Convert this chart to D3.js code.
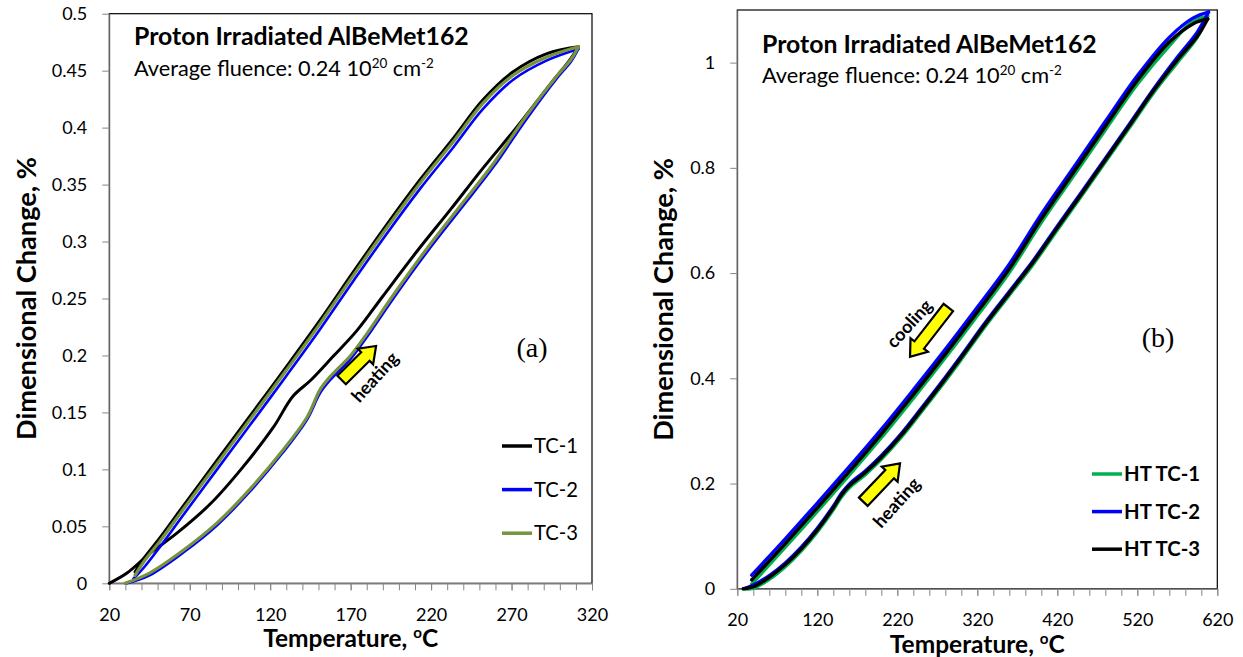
<!DOCTYPE html>
<html>
<head>
<meta charset="utf-8">
<title>Proton Irradiated AlBeMet162 - dimensional change</title>
<script src="https://cdn.jsdelivr.net/npm/d3@7"></script>
<style>
  body { margin: 0; background: #fff; }
  svg { display: block; font-family: Lato, "Open Sans", sans-serif; }
  .axis text { font-size: 18px; fill: #000; font-family: Lato, sans-serif; }
  .axis line, .axis path { stroke: #868686; }
</style>
</head>
<body>
<svg id="chart" width="1243" height="657"></svg>
<script>
// ---- panel (a): thermal cycles TC-1..TC-3 (heating branch, then cooling branch)
var aTempTicks = [20, 70, 120, 170, 220, 270, 320];
var aValTicks = [0, 0.05, 0.1, 0.15, 0.2, 0.25, 0.3, 0.35, 0.4, 0.45, 0.5];

var tc1HeatT = [20, 31, 45, 62, 83, 103, 122, 134, 145, 159, 174, 190, 211, 232, 252, 273, 294, 306, 311.5];
var tc1HeatV = [0, 0.009, 0.026, 0.044, 0.070, 0.102, 0.137, 0.164, 0.178, 0.199, 0.222, 0.252, 0.291, 0.328, 0.364, 0.400, 0.438, 0.459, 0.471];
var tc1CoolT = [292, 271, 252, 234, 213, 192, 172, 151, 130, 107, 87, 66, 51.5, 41, 36];
var tc1CoolV = [0.465, 0.449, 0.424, 0.391, 0.354, 0.314, 0.274, 0.231, 0.190, 0.146, 0.108, 0.068, 0.040, 0.021, 0.010];

var tc2HeatT = [31, 45, 66, 87, 107, 128, 143, 151, 157, 170, 180, 196, 217, 238, 259, 279, 298, 307, 311.5];
var tc2HeatV = [0, 0.007, 0.027, 0.051, 0.080, 0.115, 0.144, 0.167, 0.178, 0.197, 0.216, 0.249, 0.290, 0.328, 0.366, 0.407, 0.443, 0.458, 0.469];
var tc2CoolT = [292, 271, 252, 234, 213, 192, 172, 151, 130, 107, 87, 66, 51.5, 41, 35];
var tc2CoolV = [0.459, 0.442, 0.416, 0.383, 0.346, 0.306, 0.266, 0.223, 0.182, 0.138, 0.100, 0.060, 0.032, 0.013, 0.004];

var tc3HeatT = [29.8, 45, 66, 87, 107, 128, 143, 151, 157, 170, 180, 196, 217, 238, 259, 279, 298, 307, 311.5];
var tc3HeatV = [0, 0.009, 0.029, 0.053, 0.082, 0.117, 0.146, 0.170, 0.181, 0.200, 0.219, 0.252, 0.293, 0.331, 0.369, 0.410, 0.445, 0.460, 0.471];
var tc3CoolT = [292, 271, 252, 234, 213, 192, 172, 151, 130, 107, 87, 66, 51.5, 41, 36];
var tc3CoolV = [0.462, 0.446, 0.421, 0.388, 0.351, 0.311, 0.271, 0.228, 0.187, 0.143, 0.105, 0.065, 0.037, 0.018, 0.007];

// ---- panel (b): heat-treated samples HT TC-1..HT TC-3
var bTempTicks = [20, 120, 220, 320, 420, 520, 620];
var bValTicks = [0, 0.2, 0.4, 0.6, 0.8, 1];

var htHeatT = [27.5, 40, 60, 80, 100, 120, 140, 150, 160, 180, 200, 225, 250, 275, 300, 330, 360, 390, 420, 450, 480, 510, 540, 570, 595, 608];
var ht2HeatT = [30, 40, 60, 80, 100, 120, 140, 150, 160, 180, 200, 225, 250, 275, 300, 330, 360, 390, 420, 450, 480, 510, 540, 570, 595, 609];
var htCoolT = [590, 560, 520, 480, 440, 400, 360, 320, 280, 240, 200, 160, 120, 80, 38];

var ht1HeatV = [0, 0.001, 0.018, 0.042, 0.072, 0.108, 0.150, 0.174, 0.192, 0.217, 0.246, 0.288, 0.336, 0.385, 0.436, 0.499, 0.558, 0.617, 0.682, 0.746, 0.811, 0.876, 0.942, 1.000, 1.048, 1.088];
var ht1CoolV = [1.079, 1.032, 0.959, 0.872, 0.784, 0.696, 0.601, 0.519, 0.439, 0.362, 0.287, 0.216, 0.147, 0.079, 0.009];

var ht2HeatV = [0.001, 0.007, 0.025, 0.049, 0.079, 0.115, 0.157, 0.181, 0.199, 0.224, 0.253, 0.295, 0.343, 0.392, 0.443, 0.506, 0.565, 0.624, 0.689, 0.753, 0.818, 0.883, 0.949, 1.010, 1.058, 1.096];
var ht2CoolV = [1.085, 1.048, 0.975, 0.888, 0.800, 0.712, 0.617, 0.535, 0.455, 0.378, 0.303, 0.232, 0.163, 0.095, 0.026];

var ht3HeatV = [0, 0.004, 0.022, 0.046, 0.076, 0.112, 0.154, 0.178, 0.196, 0.221, 0.250, 0.292, 0.340, 0.389, 0.440, 0.503, 0.562, 0.621, 0.686, 0.750, 0.815, 0.880, 0.946, 1.005, 1.050, 1.083];
var ht3CoolV = [1.074, 1.039, 0.966, 0.879, 0.791, 0.703, 0.608, 0.526, 0.446, 0.369, 0.294, 0.223, 0.154, 0.086, 0.017];

var svg = d3.select("#chart");

function zip(t, v) { return t.map(function (d, i) { return [d, v[i]]; }); }

// scale a text's font so that it covers the width measured on the original figure
function fit(sel, target) {
  var w = sel.node().getComputedTextLength();
  sel.attr("font-size", parseFloat(sel.attr("font-size")) * target / w);
  return sel;
}

function sup(parent, txt) {
  parent.append("tspan").attr("font-size", "0.62em").attr("dy", "-0.62em").text(txt);
}

function blockArrow(g, x, y, a) {
  var x0 = x(a.tail[0]), y0 = y(a.tail[1]), x1 = x(a.tip[0]), y1 = y(a.tip[1]);
  var L = Math.hypot(x1 - x0, y1 - y0), ang = Math.atan2(y1 - y0, x1 - x0) * 180 / Math.PI;
  var w = 6, h = 11, hl = 15;
  g.append("path")
    .attr("d", "M0," + (-w) + "L" + (L - hl) + "," + (-w) + "L" + (L - hl) + "," + (-h) + "L" + L + ",0L" +
      (L - hl) + "," + h + "L" + (L - hl) + "," + w + "L0," + w + "Z")
    .attr("transform", "translate(" + x0 + "," + y0 + ") rotate(" + ang + ")")
    .attr("fill", "#ffff00").attr("stroke", "#000").attr("stroke-width", 2.2);
  g.append("text")
    .attr("transform", "translate(" + x(a.textPos[0]) + "," + y(a.textPos[1]) + ") rotate(-48)")
    .attr("text-anchor", "middle").attr("dy", "0.35em")
    .attr("font-size", 18).attr("font-weight", "bold").text(a.label);
}

function drawPanel(p) {
  var x = d3.scaleLinear().domain(p.xDomain).range([p.left, p.right]);
  var y = d3.scaleLinear().domain(p.yDomain).range([p.bottom, p.top]);
  var g = svg.append("g");

  g.append("rect")
    .attr("x", p.left).attr("y", p.top)
    .attr("width", p.right - p.left).attr("height", p.bottom - p.top)
    .attr("fill", "none").attr("stroke", "#000").attr("stroke-width", 1.2);

  g.append("g").attr("class", "axis")
    .attr("transform", "translate(0," + p.bottom + ")")
    .call(d3.axisBottom(x).tickValues(p.minorTicks).tickSize(7).tickSizeOuter(0).tickFormat(function () { return ""; }));
  g.append("g").attr("class", "axis")
    .attr("transform", "translate(0," + p.bottom + ")")
    .call(d3.axisBottom(x).tickValues(p.xTicks).tickSize(7).tickPadding(17.5).tickSizeOuter(0));
  g.append("g").attr("class", "axis")
    .attr("transform", "translate(" + p.left + ",0)")
    .call(d3.axisLeft(y).tickValues(p.yTicks).tickSize(7).tickPadding(15).tickSizeOuter(0)
      .tickFormat(function (d) { return String(d); }));

  var line = d3.line()
    .x(function (d) { return x(d[0]); })
    .y(function (d) { return y(d[1]); })
    .curve(d3.curveCatmullRom.alpha(0.5));

  p.series.forEach(function (s) {
    var heat = zip(s.heatT, s.heatV);
    var cool = [heat[heat.length - 1]].concat(zip(s.coolT, s.coolV));
    [heat, cool].forEach(function (branch) {
      g.append("path").datum(branch)
        .attr("d", line).attr("fill", "none")
        .attr("stroke", s.color).attr("stroke-width", s.width)
        .attr("stroke-linecap", "round").attr("stroke-linejoin", "round");
    });
  });

  // titles
  fit(g.append("text").attr("x", p.left + 24.7).attr("y", p.titleY)
    .attr("font-size", 24).attr("font-weight", "bold").text("Proton Irradiated AlBeMet162"), 335);
  var f = g.append("text").attr("x", p.left + 24.7).attr("y", p.fluenceY).attr("font-size", 20);
  f.append("tspan").text("Average fluence: 0.24 10");
  sup(f, "20");
  f.append("tspan").attr("dy", "0.384em").text(" cm");
  sup(f, "-2");
  fit(f, 300);

  // axis titles
  fit(g.append("text")
    .attr("transform", "translate(" + p.yTitleX + "," + (p.top + p.bottom) / 2 + ") rotate(-90)")
    .attr("text-anchor", "middle").attr("font-size", 26).attr("font-weight", "bold")
    .text("Dimensional Change, %"), 283);
  var xt = g.append("text")
    .attr("x", (p.left + p.right) / 2).attr("y", p.xTitleY)
    .attr("text-anchor", "middle").attr("font-size", 24).attr("font-weight", "bold");
  xt.append("tspan").text("Temperature, ");
  sup(xt, "o");
  xt.append("tspan").attr("dy", "0.384em").text("C");
  fit(xt, 175);

  // panel letter
  g.append("text")
    .attr("x", x(p.letterPos[0])).attr("y", y(p.letterPos[1]))
    .attr("text-anchor", "middle").attr("dy", "0.33em")
    .attr("font-family", "'Liberation Serif', 'Times New Roman', serif").attr("font-size", 28)
    .text(p.letter);

  // legend
  p.series.forEach(function (s, i) {
    var ly = p.legendY + i * p.legendStep;
    g.append("line").attr("x1", p.legendX).attr("x2", p.legendX + 30)
      .attr("y1", ly).attr("y2", ly)
      .attr("stroke", s.color).attr("stroke-width", 3.5);
    fit(g.append("text").attr("x", p.legendX + 32).attr("y", ly).attr("dy", "0.35em")
      .attr("font-size", 19).attr("font-weight", p.legendBold ? "bold" : "normal")
      .text(s.name), p.legendW);
  });

  p.arrows.forEach(function (a) { blockArrow(g, x, y, a); });
}

drawPanel({
  left: 109.3, right: 592, top: 13.7, bottom: 583.3,
  xDomain: [20, 320], yDomain: [0, 0.5],
  xTicks: aTempTicks, yTicks: aValTicks, minorTicks: d3.range(20, 321, 10),
  titleY: 45, fluenceY: 76, yTitleX: 36, xTitleY: 647,
  letter: "(a)", letterPos: [282.7, 0.207],
  legendX: 502, legendY: 446, legendStep: 43.6, legendBold: false, legendW: 44,
  series: [
    { name: "TC-1", color: "#000000", width: 3, heatT: tc1HeatT, heatV: tc1HeatV, coolT: tc1CoolT, coolV: tc1CoolV },
    { name: "TC-2", color: "#0000ff", width: 2.6, heatT: tc2HeatT, heatV: tc2HeatV, coolT: tc2CoolT, coolV: tc2CoolV },
    { name: "TC-3", color: "#77933c", width: 3.2, heatT: tc3HeatT, heatV: tc3HeatV, coolT: tc3CoolT, coolV: tc3CoolV }
  ],
  arrows: [
    { tail: [164.4, 0.1785], tip: [185.8, 0.2083], textPos: [185.1, 0.181], label: "heating" }
  ]
});

drawPanel({
  left: 737.3, right: 1217.3, top: 10, bottom: 588.8,
  xDomain: [20, 620], yDomain: [0, 1.1],
  xTicks: bTempTicks, yTicks: bValTicks, minorTicks: d3.range(20, 621, 20),
  titleY: 53.3, fluenceY: 83.3, yTitleX: 673, xTitleY: 653,
  letter: "(b)", letterPos: [545.9, 0.478],
  legendX: 1092, legendY: 474, legendStep: 37.6, legendBold: true, legendW: 76,
  series: [
    { name: "HT TC-1", color: "#00b050", width: 3.4, heatT: htHeatT, heatV: ht1HeatV, coolT: htCoolT, coolV: ht1CoolV },
    { name: "HT TC-2", color: "#0000ff", width: 3.4, heatT: ht2HeatT, heatV: ht2HeatV, coolT: htCoolT, coolV: ht2CoolV },
    { name: "HT TC-3", color: "#000000", width: 3.4, heatT: htHeatT, heatV: ht3HeatV, coolT: htCoolT, coolV: ht3CoolV }
  ],
  arrows: [
    { tail: [177.5, 0.1654], tip: [223.4, 0.2384], textPos: [219.1, 0.164], label: "heating" },
    { tail: [283.8, 0.5347], tip: [235.9, 0.4408], textPos: [234.9, 0.504], label: "cooling" }
  ]
});
</script>
</body>
</html>
